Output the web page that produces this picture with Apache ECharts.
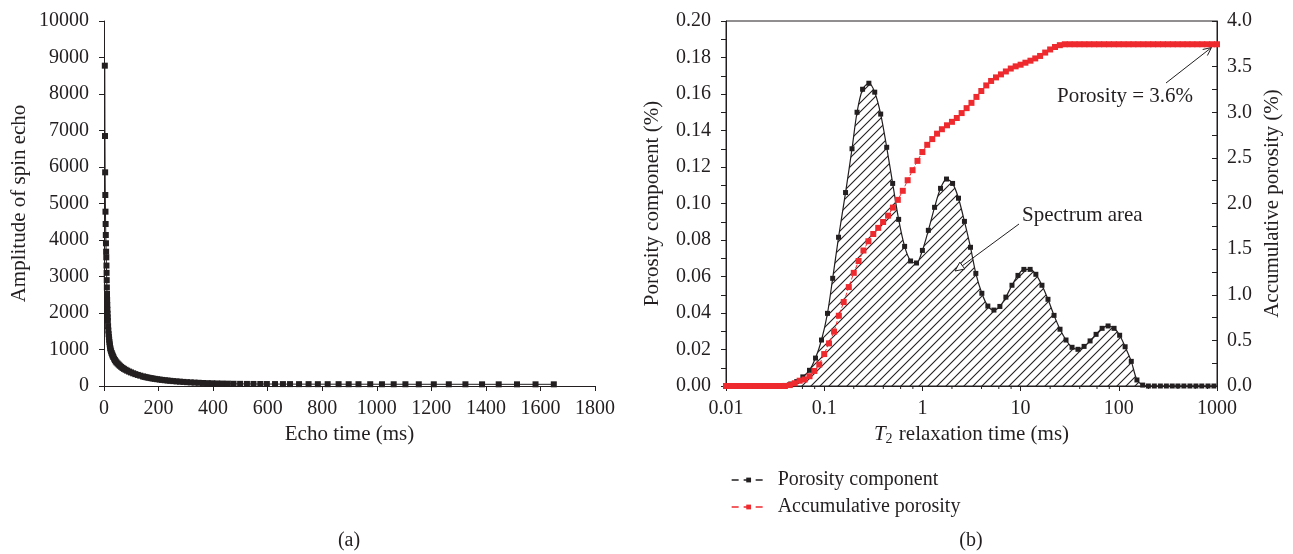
<!DOCTYPE html>
<html>
<head>
<meta charset="utf-8">
<title>Spin echo and T2 spectrum</title>
<script src="https://cdn.jsdelivr.net/npm/echarts@6/dist/echarts.min.js"></script>
<style>
  html, body { margin: 0; padding: 0; background: #fff; }
  #main { width: 1293px; height: 554px; }
</style>
</head>
<body>
<div id="main"></div>
<script>
// ---------------- data (a): spin echo decay ----------------
var echoTime = [3.0, 3.6, 4.2, 4.8, 5.4, 6.0, 6.6, 7.2, 7.8, 8.4, 9.0, 9.5, 10, 10.5, 11, 11.5, 12, 12.5, 13, 13.5,
  14, 15, 16, 17, 18, 19, 20, 21, 22, 23, 24, 26, 28, 30, 32, 34, 37, 40, 43, 46,
  50, 54, 58, 63, 68, 73, 79, 85, 92, 99, 107, 115, 124, 133, 143, 149, 156, 163, 171, 178,
  186, 195, 204, 213, 223, 233, 243, 254, 266, 278, 291, 304, 318, 332, 347, 363, 380, 397, 415, 434,
  454, 475, 499, 524, 548, 573, 597, 627, 656, 682, 715, 750, 784, 820, 860, 897, 933, 976, 1019, 1062,
  1105, 1154, 1209, 1264, 1325, 1386, 1447, 1514, 1582, 1649];
var amplitude = [8776, 6849, 5854, 5233, 4776, 4438, 4137, 3910, 3680, 3525, 3300, 3100, 2900, 2700, 2520, 2360, 2220, 2090, 1980, 1880,
  1790, 1640, 1520, 1420, 1340, 1270, 1200, 1140, 1090, 1040, 1000, 950, 905, 865, 830, 795, 750, 710, 675, 645,
  615, 585, 555, 525, 495, 470, 445, 420, 395, 372, 348, 325, 303, 283, 262, 250, 238, 227, 216, 206,
  196, 186, 176, 167, 158, 150, 142, 134, 126, 119, 112, 105, 99, 93, 88, 83, 78, 74, 70, 67,
  64, 61, 59, 57, 56, 55, 54, 53, 52, 52, 51, 51, 50, 50, 50, 49, 49, 49, 48, 48,
  48, 47, 47, 47, 47, 46, 46, 46, 46, 46];

// ---------------- data (b): T2 spectrum ----------------
var t2Comp = [0.01, 0.0112, 0.0129, 0.0148, 0.017, 0.0196, 0.0226, 0.026, 0.0299, 0.0344, 0.0396, 0.0456,
  0.0525, 0.0606, 0.0708, 0.0816, 0.0939, 0.108, 0.122, 0.14,
  0.165, 0.192, 0.216, 0.246, 0.285, 0.327, 0.376, 0.433, 0.498, 0.573, 0.659, 0.758, 0.871,
  1.0, 1.15, 1.33, 1.53, 1.76, 2.03, 2.33, 2.68, 3.09, 3.5, 4.03, 4.64, 5.35, 6.15, 7.08, 8.17, 9.4,
  10.8, 12.5, 14.3, 16.5, 19.0, 21.9, 25.2, 29.0, 33.4, 38.4, 44.3, 51.0, 58.7, 67.6, 77.8, 89.5,
  102, 116, 134, 153, 175,
  200, 230, 265, 305, 350, 400, 460, 530, 610, 700, 810, 930];
var porosityComp = [0, 0, 0, 0, 0, 0, 0, 0, 0, 0, 0.0003, 0.0011,
  0.0024, 0.005, 0.0086, 0.0153, 0.0252, 0.0398, 0.059, 0.0815,
  0.106, 0.13, 0.15, 0.1626, 0.1659, 0.161, 0.149, 0.1308, 0.111, 0.0913, 0.0765, 0.0685, 0.0674,
  0.0743, 0.0853, 0.0979, 0.1083, 0.1134, 0.111, 0.1029, 0.0902, 0.076, 0.0617, 0.0508, 0.0438, 0.0416, 0.0436, 0.0487, 0.0552, 0.0606,
  0.0639, 0.0639, 0.0612, 0.0552, 0.0475, 0.0387, 0.0311, 0.0252, 0.0212, 0.0201, 0.0217, 0.0247, 0.0283, 0.0316, 0.0329, 0.0316,
  0.0278, 0.0215, 0.0135, 0.0033, 0.0005,
  0, 0, 0, 0, 0, 0, 0, 0, 0, 0, 0, 0];

var t2Acc = [0.01, 0.0112, 0.0126, 0.0141, 0.0158, 0.0178, 0.02, 0.0224, 0.0251, 0.0282,
  0.0316, 0.0355, 0.0398, 0.0447, 0.0501, 0.0562, 0.0631, 0.0708, 0.0794, 0.0891,
  0.1, 0.112, 0.126, 0.141, 0.158, 0.178, 0.2, 0.224, 0.251, 0.282,
  0.316, 0.355, 0.398, 0.447, 0.501, 0.562, 0.631, 0.708, 0.794, 0.891,
  1, 1.12, 1.26, 1.41, 1.58, 1.78, 2, 2.24, 2.51, 2.82,
  3.16, 3.55, 3.98, 4.47, 5.01, 5.62, 6.31, 7.08, 7.94, 8.91,
  10, 11.2, 12.6, 14.1, 15.8, 17.8, 20, 22.4, 25.1, 28.2,
  31.6, 35.5, 39.8, 44.7, 50.1, 56.2, 63.1, 70.8, 79.4, 89.1,
  100, 112, 126, 141, 158, 178, 200, 224, 251, 282,
  316, 355, 398, 447, 501, 562, 631, 708, 794, 891, 1000];
var porosityAcc = [0, 0, 0, 0, 0, 0, 0, 0, 0, 0,
  0, 0, 0, 0.01, 0.03, 0.058, 0.071, 0.107, 0.165, 0.235,
  0.35, 0.467, 0.596, 0.77, 0.92, 1.084, 1.24, 1.37, 1.485, 1.586,
  1.666, 1.733, 1.797, 1.867, 1.955, 2.04, 2.139, 2.255, 2.365, 2.467,
  2.564, 2.643, 2.706, 2.765, 2.814, 2.857, 2.895, 2.937, 2.991, 3.045,
  3.103, 3.168, 3.233, 3.294, 3.343, 3.382, 3.415, 3.447, 3.479, 3.503,
  3.521, 3.543, 3.565, 3.59, 3.617, 3.654, 3.688, 3.715, 3.735, 3.745,
  3.745, 3.745, 3.745, 3.745, 3.745, 3.745, 3.745, 3.745, 3.745, 3.745,
  3.745, 3.745, 3.745, 3.745, 3.745, 3.745, 3.745, 3.745, 3.745, 3.745,
  3.745, 3.745, 3.745, 3.745, 3.745, 3.745, 3.745, 3.745, 3.745, 3.745, 3.745];

// minor ticks of the log axis (2, 4, 6, 8 in every decade)
var logMinorTicks = [0.02, 0.04, 0.06, 0.08, 0.2, 0.4, 0.6, 0.8, 2, 4, 6, 8, 20, 40, 60, 80, 200, 400, 600, 800];

var INK = '#231f20';
var RED = '#ee2a2f';
var FONT = '"Liberation Serif", "DejaVu Serif", serif';

// 斜线填充
function hatchPattern() {
  var c = document.createElement('canvas');
  c.width = 9;
  c.height = 9;
  var g = c.getContext('2d');
  g.strokeStyle = INK;
  g.lineWidth = 1.1;
  g.beginPath();
  g.moveTo(-1, 10); g.lineTo(10, -1);
  g.moveTo(-1, 1); g.lineTo(1, -1);
  g.moveTo(8, 10); g.lineTo(10, 8);
  g.stroke();
  return c;
}

function pairs(xs, ys) {
  return xs.map(function (x, i) { return [x, ys[i]]; });
}

var axisCommon = {
  axisLine: { show: true, lineStyle: { color: INK, width: 1 } },
  axisTick: { show: true, length: 5, lineStyle: { color: INK } },
  axisLabel: { fontSize: 20, color: INK, fontFamily: FONT },
  splitLine: { show: false },
  nameTextStyle: { fontSize: 21, color: INK, fontFamily: FONT }
};
function ax(o) {
  return echarts.util.merge(echarts.util.clone(axisCommon), o, true);
}

var chart = echarts.init(document.getElementById('main'));

var option = {
  animation: false,
  backgroundColor: '#fff',
  textStyle: { fontFamily: FONT },
  grid: [
    { left: 104, top: 21, width: 491, height: 365 },
    { left: 726, top: 21, width: 491, height: 365, show: true, borderColor: INK, borderWidth: 1 }
  ],
  xAxis: [
    ax({
      gridIndex: 0, type: 'value', min: 0, max: 1800, interval: 200,
      name: 'Echo time (ms)', nameLocation: 'middle', nameGap: 38,
      axisLabel: { margin: 13, formatter: function (v) { return String(v); } }
    }),
    ax({
      gridIndex: 1, type: 'log', logBase: 10, min: 0.01, max: 1000,
      name: '{i|T}{s|2} relaxation time (ms)', nameLocation: 'middle', nameGap: 38,
      nameTextStyle: {
        rich: {
          i: { fontStyle: 'italic', fontSize: 21, fontFamily: FONT, color: INK },
          s: { fontSize: 14, fontFamily: FONT, color: INK, verticalAlign: 'bottom', padding: [0, 1, -1, 0] }
        }
      },
      axisLabel: { margin: 13, formatter: function (v) { return String(+v.toPrecision(3)); } }
    })
  ],
  yAxis: [
    ax({
      gridIndex: 0, type: 'value', min: 0, max: 10000, interval: 1000,
      name: 'Amplitude of spin echo', nameLocation: 'middle', nameGap: 74, nameRotate: 90,
      axisLabel: { margin: 15, formatter: function (v) { return String(v); } }
    }),
    ax({
      gridIndex: 1, type: 'value', min: 0, max: 0.2, interval: 0.02,
      name: 'Porosity component (%)', nameLocation: 'middle', nameGap: 63, nameRotate: 90,
      minorTick: { show: true, splitNumber: 2, length: 5, lineStyle: { color: INK } },
      axisLabel: { margin: 15, formatter: function (v) { return v.toFixed(2); } }
    }),
    ax({
      gridIndex: 1, type: 'value', position: 'right', min: 0, max: 4, interval: 0.5,
      name: 'Accumulative porosity (%)', nameLocation: 'middle', nameGap: 45, nameRotate: 90,
      axisTick: { inside: true },
      minorTick: { show: true, splitNumber: 2, length: 5, lineStyle: { color: INK } },
      axisLabel: { margin: 10, formatter: function (v) { return v.toFixed(1); } }
    })
  ],
  legend: {
    data: ['Porosity component', 'Accumulative porosity'],
    orient: 'vertical', left: 726, top: 465,
    itemWidth: 34, itemHeight: 6, itemGap: 7,
    lineStyle: { type: [7, 5], width: 1.3 },
    textStyle: { fontSize: 20, color: INK, fontFamily: FONT, padding: [0, 0, 0, 7] }
  },
  series: [
    {
      type: 'line', name: 'Amplitude', xAxisIndex: 0, yAxisIndex: 0,
      data: pairs(echoTime, amplitude),
      symbol: 'rect', symbolSize: 6, showAllSymbol: true,
      lineStyle: { color: INK, width: 1 }, itemStyle: { color: INK }
    },
    {
      type: 'line', name: 'Porosity component', xAxisIndex: 1, yAxisIndex: 1,
      data: pairs(t2Comp, porosityComp), smooth: 0.3,
      symbol: 'rect', symbolSize: 5, showAllSymbol: true,
      lineStyle: { color: INK, width: 1.2 }, itemStyle: { color: INK },
      areaStyle: { color: { image: hatchPattern(), repeat: 'repeat' }, opacity: 1 }
    },
    {
      type: 'line', name: 'Accumulative porosity', xAxisIndex: 1, yAxisIndex: 2,
      data: pairs(t2Acc, porosityAcc),
      symbol: 'rect', symbolSize: 6, showAllSymbol: true,
      lineStyle: { color: RED, width: 1, type: 'dashed' }, itemStyle: { color: RED }
    },
    {
      type: 'custom', xAxisIndex: 1, yAxisIndex: 1, silent: true, clip: false,
      data: logMinorTicks.map(function (t) { return [t]; }),
      renderItem: function (params, api) {
        var p = api.coord([api.value(0), 0]);
        return {
          type: 'line',
          shape: { x1: p[0], y1: p[1], x2: p[0], y2: p[1] + 3 },
          style: { stroke: INK, lineWidth: 1 }
        };
      }
    }
  ],
  graphic: [
    { type: 'text', x: 349, y: 541, style: { text: '(a)', font: '20px ' + FONT, fill: INK, align: 'center', verticalAlign: 'middle' } },
    { type: 'text', x: 971, y: 541, style: { text: '(b)', font: '20px ' + FONT, fill: INK, align: 'center', verticalAlign: 'middle' } },
    { type: 'text', x: 1125, y: 96, style: { text: 'Porosity = 3.6%', font: '21px ' + FONT, fill: INK, align: 'center', verticalAlign: 'middle' } },
    { type: 'text', x: 1022, y: 215, style: { text: 'Spectrum area', font: '21px ' + FONT, fill: INK, align: 'left', verticalAlign: 'middle' } },
    // arrow to porosity
    { type: 'line', shape: { x1: 1166, y1: 83, x2: 1211.5, y2: 47.5 }, style: { stroke: INK, lineWidth: 1 } },
    { type: 'polyline', shape: { points: [[1202.7, 49.5], [1211.5, 47.5], [1207.4, 55.5]] }, style: { stroke: INK, lineWidth: 1, fill: null } },
    // arrow to spectrum area
    { type: 'line', shape: { x1: 1019, y1: 224, x2: 962, y2: 266 }, style: { stroke: INK, lineWidth: 1 } },
    { type: 'polygon', shape: { points: [[964.8, 269], [955, 271], [959.8, 262.2]] }, style: { stroke: INK, lineWidth: 1, fill: '#fff' }, z: 100 }
  ]
};

chart.setOption(option);
</script>
</body>
</html>
